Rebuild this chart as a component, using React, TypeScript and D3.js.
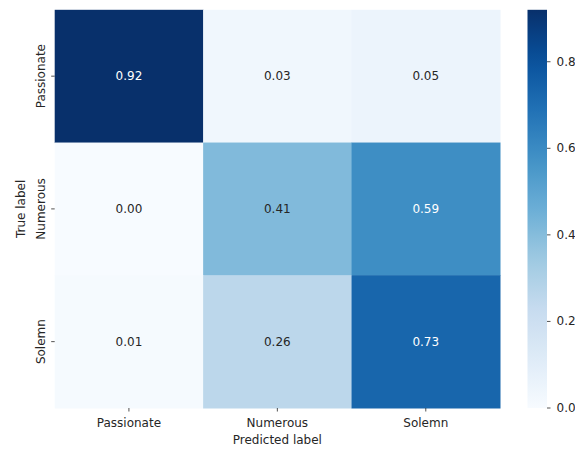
import React from "react";
import * as d3 from "d3";

// Confusion matrix values (rows = true label, columns = predicted label)
const classes = ["Passionate", "Numerous", "Solemn"];
const rowPassionate = [0.92, 0.03, 0.05];
const rowNumerous = [0.0, 0.41, 0.59];
const rowSolemn = [0.01, 0.26, 0.73];
const matrix = [rowPassionate, rowNumerous, rowSolemn];
const colorbarTicks = [0.0, 0.2, 0.4, 0.6, 0.8];

// Blues colormap stops (ColorBrewer, linearly interpolated)
const bluesStops = [
  "#f7fbff", "#deebf7", "#c6dbef", "#9ecae1", "#6baed6",
  "#4292c6", "#2171b5", "#08519c", "#08306b",
];

const W = 575;
const H = 450;
const plot = { left: 54.7, top: 9.8, right: 500, bottom: 408 };
const cbar = { left: 527.5, right: 547, top: 9.8, bottom: 408 };
const FONT = "DejaVu Sans, sans-serif";
const TEXT = "#262626";

export default function App() {
  const vmin = d3.min(matrix.flat()) as number;
  const vmax = d3.max(matrix.flat()) as number;

  const t = d3
    .scaleLinear<string>()
    .domain(bluesStops.map((_, i) => i / (bluesStops.length - 1)))
    .range(bluesStops)
    .interpolate(d3.interpolateRgb);
  const norm = d3.scaleLinear().domain([vmin, vmax]).range([0, 1]).clamp(true);
  const color = (v: number) => t(norm(v));

  const x = d3.scaleBand<string>().domain(classes).range([plot.left, plot.right]);
  const y = d3.scaleBand<string>().domain(classes).range([plot.top, plot.bottom]);
  const cy = d3.scaleLinear().domain([vmin, vmax]).range([cbar.bottom, cbar.top]);

  const textColor = (v: number) => {
    const c = d3.rgb(color(v));
    const lin = (u: number) => {
      const s = u / 255;
      return s <= 0.03928 ? s / 12.92 : Math.pow((s + 0.055) / 1.055, 2.4);
    };
    const lum = 0.2126 * lin(c.r) + 0.7152 * lin(c.g) + 0.0722 * lin(c.b);
    return lum > 0.408 ? TEXT : "#ffffff";
  };

  const gradStops = d3.range(0, 1.0001, 0.05);

  return (
    <svg
      width={W}
      height={H}
      style={{ position: "absolute", left: 0, top: 0, background: "#ffffff" }}
      fontFamily={FONT}
    >
      <defs>
        <linearGradient id="cbarGrad" x1="0" y1="1" x2="0" y2="0">
          {gradStops.map((s) => (
            <stop key={s} offset={s} stopColor={t(s)} />
          ))}
        </linearGradient>
      </defs>

      {/* heatmap cells */}
      {matrix.map((row, i) =>
        row.map((v, j) => (
          <g key={`${i}-${j}`}>
            <rect
              x={x(classes[j])}
              y={y(classes[i])}
              width={x.bandwidth() + 0.5}
              height={y.bandwidth() + 0.5}
              fill={color(v)}
            />
            <text
              x={(x(classes[j]) as number) + x.bandwidth() / 2}
              y={(y(classes[i]) as number) + y.bandwidth() / 2}
              textAnchor="middle"
              dominantBaseline="central"
              fontSize={12}
              fill={textColor(v)}
            >
              {v.toFixed(2)}
            </text>
          </g>
        ))
      )}

      {/* x axis */}
      {classes.map((c) => {
        const cx = (x(c) as number) + x.bandwidth() / 2;
        return (
          <g key={`xt-${c}`}>
            <line x1={cx} x2={cx} y1={plot.bottom} y2={plot.bottom + 3.5} stroke={TEXT} strokeWidth={0.8} />
            <text x={cx} y={plot.bottom + 18.5} textAnchor="middle" fontSize={12} fill={TEXT}>
              {c}
            </text>
          </g>
        );
      })}
      <text
        x={(plot.left + plot.right) / 2}
        y={443.5}
        textAnchor="middle"
        fontSize={12}
        fill={TEXT}
      >
        Predicted label
      </text>

      {/* y axis */}
      {classes.map((c) => {
        const cyy = (y(c) as number) + y.bandwidth() / 2;
        return (
          <g key={`yt-${c}`}>
            <line x1={plot.left - 3.5} x2={plot.left} y1={cyy} y2={cyy} stroke={TEXT} strokeWidth={0.8} />
            <text
              transform={`translate(${plot.left - 9.5},${cyy}) rotate(-90)`}
              textAnchor="middle"
              fontSize={12}
              fill={TEXT}
            >
              {c}
            </text>
          </g>
        );
      })}
      <text
        transform={`translate(${25},${(plot.top + plot.bottom) / 2}) rotate(-90)`}
        textAnchor="middle"
        fontSize={12}
        fill={TEXT}
      >
        True label
      </text>

      {/* colorbar */}
      <rect
        x={cbar.left}
        y={cbar.top}
        width={cbar.right - cbar.left}
        height={cbar.bottom - cbar.top}
        fill="url(#cbarGrad)"
      />
      {colorbarTicks.map((v) => (
        <g key={`ct-${v}`}>
          <line x1={cbar.right} x2={cbar.right + 3.5} y1={cy(v)} y2={cy(v)} stroke={TEXT} strokeWidth={0.8} />
          <text x={cbar.right + 9.5} y={cy(v)} dominantBaseline="central" fontSize={12} fill={TEXT}>
            {v.toFixed(1)}
          </text>
        </g>
      ))}
    </svg>
  );
}
